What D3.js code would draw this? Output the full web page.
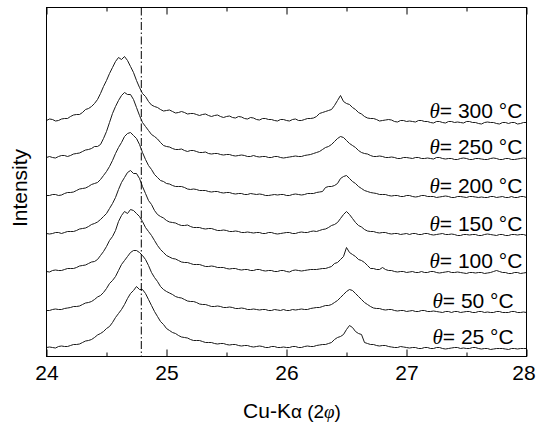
<!DOCTYPE html>
<html>
<head>
<meta charset="utf-8">
<script src="https://cdn.jsdelivr.net/npm/d3@7"></script>
<style>
  body { margin: 0; background: #fff; }
  svg { display: block; font-family: "Liberation Sans", Arial, sans-serif; }
  .curve { fill: none; stroke: #1a1a1a; stroke-width: 1; stroke-linejoin: round; }
  .tick line { stroke: #000; }
  .tick text { font-size: 21px; fill: #000; }
</style>
</head>
<body>
<div id="wrapper"></div>
<script>
// 1. Data (intensities in arbitrary units above each baseline)

const temperatures = [25, 50, 100, 150, 200, 250, 300]
// vertical shift of every pattern, bottom to top
const offsets = [9, 46, 85, 123, 161, 199, 236]

// scan positions (every 0.05 deg) and the in-between readings (every 0.05 deg, shifted by 0.025)
const twoTheta = [
  24.00, 24.05, 24.10, 24.15, 24.20, 24.25, 24.30, 24.35, 24.40, 24.45,
  24.50, 24.55, 24.60, 24.65, 24.70, 24.75, 24.80, 24.85, 24.90, 24.95,
  25.00, 25.05, 25.10, 25.15, 25.20, 25.25, 25.30, 25.35, 25.40, 25.45,
  25.50, 25.55, 25.60, 25.65, 25.70, 25.75, 25.80, 25.85, 25.90, 25.95,
  26.00, 26.05, 26.10, 26.15, 26.20, 26.25, 26.30, 26.35, 26.40, 26.45,
  26.50, 26.55, 26.60, 26.65, 26.70, 26.75, 26.80, 26.85, 26.90, 26.95,
  27.00, 27.05, 27.10, 27.15, 27.20, 27.25, 27.30, 27.35, 27.40, 27.45,
  27.50, 27.55, 27.60, 27.65, 27.70, 27.75, 27.80, 27.85, 27.90, 27.95,
  28.00
]
const twoThetaMid = [
  24.025, 24.075, 24.125, 24.175, 24.225, 24.275, 24.325, 24.375, 24.425, 24.475,
  24.525, 24.575, 24.625, 24.675, 24.725, 24.775, 24.825, 24.875, 24.925, 24.975,
  25.025, 25.075, 25.125, 25.175, 25.225, 25.275, 25.325, 25.375, 25.425, 25.475,
  25.525, 25.575, 25.625, 25.675, 25.725, 25.775, 25.825, 25.875, 25.925, 25.975,
  26.025, 26.075, 26.125, 26.175, 26.225, 26.275, 26.325, 26.375, 26.425, 26.475,
  26.525, 26.575, 26.625, 26.675, 26.725, 26.775, 26.825, 26.875, 26.925, 26.975,
  27.025, 27.075, 27.125, 27.175, 27.225, 27.275, 27.325, 27.375, 27.425, 27.475,
  27.525, 27.575, 27.625, 27.675, 27.725, 27.775, 27.825, 27.875, 27.925, 27.975
]

const i25 = [
  0, 0, 1, 1, 2, 3, 5, 7, 10, 14,
  19, 25, 34, 43, 54, 61, 58, 48, 36, 26,
  19, 15, 12, 10, 8, 7, 6, 5, 4, 4,
  3, 3, 2, 2, 1, 1, 1, 0, 1, 0,
  0, 1, 0, 1, 1, 2, 3, 4, 8, 11,
  18, 20, 14, 5, 3, 2, 2, 1, 0, 1,
  0, 0, -1, 0, -1, 0, -1, -1, 0, -1,
  -1, 0, -1, -1, -2, -1, -1, -2, -1, -1,
  -1
]
const i25mid = [
  0.5, -0.5, 1.5, 1, 3, 3.5, 6.5, 8, 12.5, 16,
  21, 30, 38, 49, 57, 58, 54, 42, 31, 23,
  17, 14, 10.5, 9.5, 7, 7, 5, 5, 3.5, 4,
  2.5, 3, 1.5, 2, 0.5, 1.5, 0, 1, 0, 0.5,
  0, 1, 0, 1.5, 1, 2.5, 3, 5, 10, 13,
  22, 16, 13, 4, 3, 1.5, 2, 0.5, 0, 0.5,
  -0.5, 0, -1, 0, -1, 0, -1.5, -0.5, 0, -0.5,
  -1, 0, -1.5, -1, -1.5, -1, -1.5, -1, -1.5, -1
]
const i50 = [
  0, 1, 1, 2, 3, 4, 6, 8, 11, 15,
  22, 30, 40, 50, 58, 60, 55, 45, 33, 24,
  19, 16, 13, 11, 9, 8, 6, 5, 4, 4,
  3, 3, 2, 2, 1, 1, 1, 0, 1, 0,
  0, 1, 1, 1, 2, 3, 4, 5, 8, 13,
  19, 20, 14, 8, 4, 2, 1, 1, 0, 0,
  -1, 0, -1, 0, -1, -1, -2, -1, -1, -2,
  -1, -2, -1, -2, -2, -1, -2, -2, -1, -2,
  -2
]
const i50mid = [
  0, 1.5, 1, 2.5, 4, 4.5, 7.5, 9, 13.5, 18,
  27, 34, 46, 54, 60, 58, 51, 38, 29, 21,
  17.5, 14, 12.5, 9.5, 9, 6.5, 6, 4, 4.5, 3,
  3.5, 2, 2.5, 1, 1.5, 0.5, 1, 0, 0.5, 1,
  0, 0.5, 1.5, 1, 2.5, 3, 5, 6, 10, 16,
  21, 17, 11, 6, 2.5, 2, 0.5, 1, -0.5, 0,
  -0.5, -1, 0, -1, -0.5, -1.5, -1, -2, -1, -1.5,
  -1, -2, -1, -1.5, -2, -1, -2, -1, -2, -1.5
]
const i100 = [
  0, 1, 1, 2, 3, 4, 6, 8, 10, 16,
  25, 35, 50, 60, 62, 58, 50, 40, 31, 22,
  16, 13, 11, 9, 8, 7, 6, 5, 5, 4,
  3, 3, 2, 2, 1, 2, 1, 1, 0, 1,
  0, 1, 1, 1, 2, 2, 3, 4, 8, 12,
  24, 17, 12, 9, 3, 2, 4, 1, 0, 0,
  -1, 0, -1, -1, 0, -1, -1, 0, -1, -1,
  -2, -1, -1, -2, -1, 1, -1, -2, -1, -2,
  -1
]
const i100mid = [
  -0.5, 1.5, 1, 3, 3, 5.5, 6.5, 9.5, 12, 20,
  31, 41, 56, 58, 61, 55, 44, 36, 26, 19,
  14.5, 12.5, 9.5, 9, 7, 7, 5, 5.5, 4, 4,
  2.5, 3, 1.5, 2, 1, 2, 0.5, 1, 0, 1,
  -0.5, 1.5, 0.5, 1.5, 2, 2.5, 3, 5, 9, 15,
  19, 15, 11, 6, 3, 2, 2, 1, -0.5, 0,
  -0.5, -1, 0, -1, 0, -1.5, -0.5, -1, -0.5, -1.5,
  -1, -1.5, -1, -1.5, 0, 0, -1, -2, -1, -1.5
]
const i150 = [
  0, 0, 1, 1, 2, 3, 5, 7, 10, 14,
  20, 30, 44, 56, 63, 60, 47, 33, 23, 17,
  13, 11, 9, 8, 7, 6, 5, 5, 4, 3,
  3, 2, 2, 1, 1, 1, 0, 1, 0, 0,
  1, 0, 1, 1, 2, 2, 4, 6, 9, 15,
  22, 15, 8, 4, 2, 1, 1, 0, 0, -1,
  0, 0, -1, 0, -1, -1, 0, -1, -1, -2,
  -1, -1, -2, -1, -1, -2, -1, -2, -1, -1,
  -2
]
const i150mid = [
  -0.5, 1, 0, 2, 2, 4.5, 5.5, 9, 11.5, 17,
  25, 36, 51, 61, 60, 55, 40, 29, 19, 15.5,
  11.5, 10.5, 8, 8.5, 6, 6, 4.5, 5, 3, 3.5,
  2, 2.5, 1, 1.5, 0.5, 1, 0, 1, -0.5, 0.5,
  1, 0, 1.5, 1, 2.5, 3, 4.5, 8, 11, 19,
  19, 11, 6.5, 2.5, 2, 0.5, 1, -0.5, 0, -0.5,
  -1, 0, -1, 0, -1.5, -0.5, -1, -0.5, -2, -1,
  -1.5, -1, -2, -0.5, -1.5, -1, -2, -1, -1.5, -1
]
const i200 = [
  0, 1, 0, 2, 3, 5, 7, 9, 12, 16,
  24, 35, 48, 59, 63, 57, 43, 30, 21, 15,
  12, 10, 9, 8, 6, 6, 5, 4, 4, 3,
  3, 2, 2, 1, 2, 1, 1, 0, 1, 1,
  0, 1, 1, 1, 2, 3, 4, 9, 10, 17,
  20, 14, 9, 5, 3, 2, 1, 0, 0, -1,
  0, -1, -1, 0, -1, -2, -1, -1, -2, -1,
  -2, -1, -2, -2, -1, -2, -1, -2, -2, -1,
  -2
]
const i200mid = [
  0, 1, 0.5, 3, 3.5, 6.5, 7.5, 11, 13, 20,
  29, 42, 53, 62, 60, 51, 36, 26, 18, 14,
  11.5, 9, 9, 6.5, 6.5, 5, 5, 3.5, 4, 2.5,
  3, 1.5, 2, 1, 1.5, 1.5, 0, 0.5, 0.5, 1,
  0, 1.5, 0.5, 2, 2, 3.5, 8, 9, 12, 19,
  17, 12, 7, 4, 2.5, 1, 1, -0.5, 0, -1,
  0, -1.5, 0, -1, -1, -1.5, -0.5, -2, -1, -1.5,
  -1, -1.5, -1.5, -2, -1, -1.5, -2, -1, -2, -1
]
const i250 = [
  0, 0, 1, 2, 2, 4, 6, 8, 11, 13,
  26, 44, 57, 65, 63, 50, 35, 27, 21, 15,
  11, 9, 8, 7, 7, 6, 5, 4, 4, 3,
  3, 2, 2, 2, 1, 1, 1, 0, 1, 0,
  0, 1, 1, 2, 3, 5, 8, 11, 16, 21,
  17, 12, 7, 4, 2, 1, 1, 0, 0, -1,
  0, -1, 0, -1, -1, 0, -1, -1, -2, -1,
  -1, -2, -1, -2, -1, -1, -2, -1, -2, -1,
  -1
]
const i250mid = [
  1, -0.5, 2, 1, 3.5, 4.5, 7.5, 9, 11, 19,
  35, 51, 62, 63, 58, 42, 31, 23, 18.5, 12,
  10.5, 8, 8.5, 6, 7, 5, 5.5, 3.5, 4, 2.5,
  3, 1.5, 2.5, 1, 2, 0.5, 1, 0, 1, -0.5,
  0.5, 1.5, 1, 2.5, 4, 6, 10, 13, 19, 20,
  14, 10, 5, 3.5, 1, 1.5, 0, 0.5, -1, 0,
  -0.5, 0, -1, -0.5, -1.5, 0, -1.5, -1, -2, -0.5,
  -2, -1, -1.5, -2, -0.5, -2, -1, -2, -1.5, -0.5
]
const i300 = [
  0, 1, 0, 2, 4, 6, 8, 12, 17, 27,
  40, 53, 63, 64, 54, 40, 27, 19, 14, 11,
  10, 9, 8, 8, 7, 6, 6, 5, 5, 4,
  4, 3, 4, 2, 3, 1, 2, 1, 0, 1,
  0, 1, 0, 1, 2, 4, 8, 10, 15, 25,
  17, 13, 8, 4, 2, 1, 0, 1, -1, 0,
  -1, -1, 0, -1, -2, -1, -2, -1, -2, -2,
  -1, -2, -3, -2, -2, -3, -2, -3, -2, -3,
  -2
]
const i300mid = [
  1.5, -0.5, 1.5, 2, 5.5, 6, 11, 14, 21, 34,
  47, 59, 61, 60, 48, 33, 24, 15.5, 13, 9.5,
  10.5, 7.5, 9, 6.5, 7, 5, 6.5, 4, 5.5, 3,
  4.5, 2.5, 3.5, 1.5, 2.5, 0.5, 2, 1, -0.5, 1,
  -0.5, 1.5, 0, 2, 2.5, 7, 9, 11, 20, 19,
  16, 11, 6.5, 2.5, 2, -0.5, 0.5, 0.5, -1.5, 0,
  -0.5, -1.5, 0, -1, -2.5, -1, -2.5, -1, -1.5, -2.5,
  -1, -2, -3.5, -1.5, -2, -3.5, -2, -2, -3.5, -2
]
const intensities = [i25, i50, i100, i150, i200, i250, i300]
const intensitiesMid = [i25mid, i50mid, i100mid, i150mid, i200mid, i250mid, i300mid]

const referenceAngle = 24.79
const majorTicks = [24, 25, 26, 27, 28]
const minorTicks = [24.5, 25.5, 26.5, 27.5]

function drawChart() {

  // 2. Dimensions

  let dimensions = {
    width: 536,
    height: 423,
    margin: {
      top: 7.5,
      right: 9.5,
      bottom: 66.5,
      left: 46.5,
    },
    labelX: 383,
  }
  dimensions.boundedWidth = dimensions.width - dimensions.margin.left - dimensions.margin.right
  dimensions.boundedHeight = dimensions.height - dimensions.margin.top - dimensions.margin.bottom

  // 3. Canvas

  const wrapper = d3.select("#wrapper")
    .append("svg")
      .attr("width", dimensions.width)
      .attr("height", dimensions.height)

  const bounds = wrapper.append("g")
      .attr("transform", `translate(${dimensions.margin.left}, ${dimensions.margin.top})`)

  // 4. Scales

  const xScale = d3.scaleLinear()
    .domain([24, 28])
    .range([0, dimensions.boundedWidth])

  const yScale = d3.scaleLinear()
    .domain([0, 349])
    .range([dimensions.boundedHeight, 0])

  // 5. Data

  // table of [2theta, intensity] in scan order, both readings merged
  const series = temperatures.map((t, i) => ({
    temperature: t,
    offset: offsets[i],
    points: d3.merge(twoTheta.map((x, j) => j < twoThetaMid.length
      ? [[x, intensities[i][j]], [twoThetaMid[j], intensitiesMid[i][j]]]
      : [[x, intensities[i][j]]]
    )),
  }))

  const lineGenerator = d3.line()
    .x(d => xScale(d[0]))
    .y(d => yScale(d[1]))

  bounds.append("g").selectAll(".curve")
    .data(series)
    .enter().append("path")
      .attr("class", "curve")
      .attr("d", s => lineGenerator(s.points.map(p => [p[0], p[1] + s.offset])))

  // dash-dot reference line
  bounds.append("line")
    .attr("x1", xScale(referenceAngle))
    .attr("x2", xScale(referenceAngle))
    .attr("y1", 0)
    .attr("y2", dimensions.boundedHeight)
    .attr("stroke", "#000")
    .attr("stroke-width", 1)
    .attr("stroke-dasharray", "8,2.5,1.5,2.5")

  // temperature labels
  const labels = bounds.append("g").selectAll(".temp-label")
    .data(series)
    .enter().append("text")
      .attr("class", "temp-label")
      .attr("x", s => dimensions.labelX + (s.temperature < 100 ? 3 : 0))
      .attr("y", s => yScale(s.offset + s.points[s.points.length - 1][1]) - 5)
      .style("font-size", "21px")
  labels.append("tspan")
    .style("font-family", "'Liberation Serif', 'Times New Roman', serif")
    .style("font-style", "italic")
    .text("θ")
  labels.append("tspan")
    .text(s => `= ${s.temperature} °C`)

  // 6. Peripherals

  const xAxisBottom = d3.axisBottom(xScale)
    .tickValues(majorTicks)
    .tickSize(-7)
    .tickSizeOuter(0)
    .tickPadding(9)
    .tickFormat(d3.format("d"))
  const bottomAxis = bounds.append("g")
    .attr("transform", `translate(0, ${dimensions.boundedHeight})`)
    .call(xAxisBottom)
  bottomAxis.select(".domain").remove()
  bottomAxis.selectAll("text")
    .attr("font-family", null)
    .attr("font-size", null)
    .attr("dx", d => d === 28 ? -3 : 0) // the last label sits against the page edge

  const minorBottom = bounds.append("g")
    .attr("transform", `translate(0, ${dimensions.boundedHeight})`)
    .call(d3.axisBottom(xScale).tickValues(minorTicks).tickSize(-4).tickSizeOuter(0).tickFormat(""))
  minorBottom.select(".domain").remove()

  const topAxis = bounds.append("g")
    .call(d3.axisTop(xScale).tickValues(majorTicks).tickSize(-7).tickSizeOuter(0).tickFormat(""))
  topAxis.select(".domain").remove()
  const minorTop = bounds.append("g")
    .call(d3.axisTop(xScale).tickValues(minorTicks).tickSize(-4).tickSizeOuter(0).tickFormat(""))
  minorTop.select(".domain").remove()

  // frame
  bounds.append("rect")
    .attr("width", dimensions.boundedWidth)
    .attr("height", dimensions.boundedHeight)
    .attr("fill", "none")
    .attr("stroke", "#000")
    .attr("stroke-width", 1)

  // axis titles
  const xTitle = wrapper.append("text")
    .attr("x", 292)
    .attr("y", 418)
    .attr("text-anchor", "middle")
    .style("font-size", "21px")
  xTitle.append("tspan").text("Cu-K")
  xTitle.append("tspan").style("font-size", "19px").text("α")
  xTitle.append("tspan").style("font-size", "19px").text(" (2")
  xTitle.append("tspan")
    .style("font-family", "'Liberation Serif', 'Times New Roman', serif")
    .style("font-style", "italic")
    .style("font-size", "19px")
    .text("φ")
  xTitle.append("tspan").style("font-size", "19px").text(")")

  wrapper.append("text")
    .attr("transform", "translate(27, 188) rotate(-90)")
    .attr("text-anchor", "middle")
    .style("font-size", "21px")
    .text("Intensity")
}
drawChart()
</script>
</body>
</html>
